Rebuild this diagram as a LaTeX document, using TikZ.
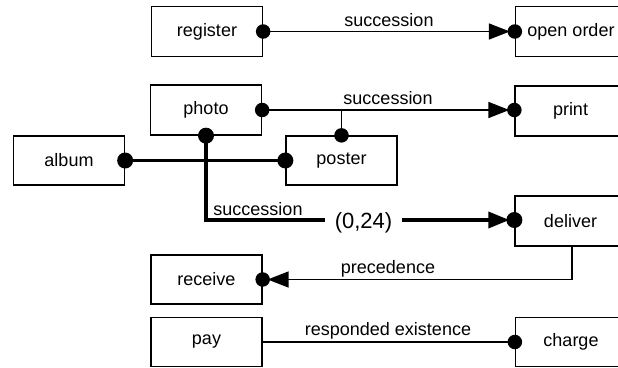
\documentclass[tikz,border=0pt]{standalone}
\usepackage{fontspec}
\setmainfont{Liberation Sans}
\usetikzlibrary{arrows.meta}
\begin{document}
\begin{tikzpicture}[x=1pt,y=-1pt,
 box/.style={draw,line width=1.3pt,minimum width=111pt,minimum height=50pt,inner sep=0pt,font=\fontsize{18}{20}\selectfont},
 thinline/.style={line width=1.5pt},
 thickline/.style={line width=3.5pt},
 dot/.style={circle,fill,inner sep=0pt,minimum size=14.5pt},
 bigdot/.style={circle,fill,inner sep=0pt,minimum size=16pt},
 lbl/.style={font=\fontsize{18}{20}\selectfont,inner sep=0pt,anchor=base},
 tip/.style={-{Triangle[length=21pt,width=16pt]}, shorten >=5pt}
]
\useasboundingbox (0,0) rectangle (618,367);
\clip (0,0) rectangle (618,367);
\fill[white] (0,0) rectangle (618,367);

% boxes
\node[box] (register) at (207,31.5) {register};
\node[box] (openorder) at (571,31.5) {open order};
\node[box] (photo) at (206,110) {photo};
\node[box] (print) at (570.5,111) {print};
\node[box,minimum height=49pt] (album) at (69,160.5) {album};
\node[box,minimum height=49pt] (poster) at (341.5,160.5) {poster};
\node[box] (deliver) at (570.5,221) {deliver};
\node[box,minimum height=49pt] (receive) at (206.5,279.5) {receive};
\node[box,minimum height=49pt] (pay) at (206.5,342) {pay};
\node[box,minimum height=49pt] (charge) at (571,342) {charge};

% register -> open order
\draw[thinline,tip] (register.east) -- (openorder.west);
\node[lbl] (l1) at (389,26) {succession};
\node[dot] (d1a) at (register.east) {};
\node[dot] (d1b) at (openorder.west) {};

% photo -> print, branch to poster
\draw[thinline,tip] (photo.east) -- (print.west |- photo.east);
\draw[thinline] (poster.north |- photo.east) -- (poster.north);
\node[lbl] (l2) at (388,104) {succession};
\node[dot] (d2a) at (photo.east) {};
\node[dot] (d2b) at (print.west |- photo.east) {};
\node[dot] (d2c) at (poster.north) {};

% album -- poster
\draw[thickline] (album.east) -- (poster.west);
\node[bigdot] (d3a) at (album.east) {};
\node[bigdot] (d3b) at (poster.west) {};

% photo -> deliver (0,24)
\coordinate (bend) at (206,220);
\node[font=\fontsize{22}{24}\selectfont,inner xsep=10pt,inner ysep=0pt] (t024) at (363.5,222.5) {(0,24)};
\draw[thickline] (photo.south) -- (bend) -- (bend -| t024.west);
\draw[thickline,tip] (bend -| t024.east) -- (deliver.west |- bend);
\node[lbl] (l3) at (258,215) {succession};
\node[bigdot] (d4a) at (photo.south) {};
\node[bigdot] (d4b) at (deliver.west |- bend) {};

% deliver -> receive (precedence)
\draw[thinline,tip] ([xshift=1.5pt]deliver.south) |- (receive.east);
\node[lbl] (l4) at (388,273.5) {precedence};
\node[dot] (d5) at (receive.east) {};

% pay -- charge
\draw[thinline] (pay.east) -- (charge.west);
\node[lbl] (l5) at (388,335) {responded existence};
\node[dot] (d6) at (charge.west) {};
\end{tikzpicture}
\end{document}
